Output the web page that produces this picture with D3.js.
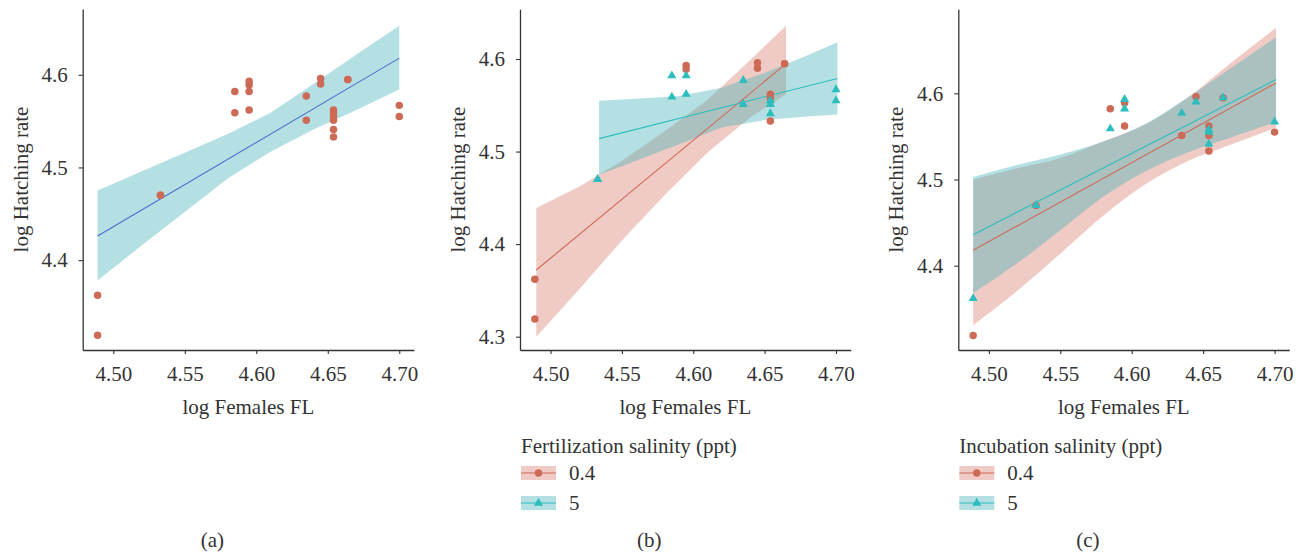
<!DOCTYPE html>
<html>
<head>
<meta charset="utf-8">
<script src="https://cdn.jsdelivr.net/npm/d3@7"></script>
<style>
  body { margin: 0; background: #fff; }
  svg text { font-family: "Liberation Serif", "DejaVu Serif", serif; fill: #333; }
</style>
</head>
<body>
<div id="chart"></div>
<script>
// Datos: un registro por hembra (log FL, log tasa de eclosion, salinidades)
var femaleFL  = [4.489, 4.489, 4.533, 4.533, 4.585, 4.585, 4.595, 4.595, 4.595, 4.595, 4.635, 4.635,
                 4.645, 4.645, 4.664, 4.664, 4.654, 4.654, 4.654, 4.654, 4.654, 4.654, 4.700, 4.700];
var hatchRate = [4.319, 4.362, 4.470, 4.470, 4.582, 4.559, 4.593, 4.589, 4.582, 4.562, 4.577, 4.551,
                 4.596, 4.590, 4.595, 4.595, 4.562, 4.558, 4.555, 4.551, 4.541, 4.533, 4.567, 4.555];
var fertSal   = ["0.4", "0.4", "5", "5", "5", "5", "0.4", "0.4", "5", "5", "5", "5",
                 "0.4", "0.4", "0.4", "0.4", "0.4", "0.4", "5", "5", "5", "0.4", "5", "5"];
var incubSal  = ["0.4", "5", "0.4", "5", "0.4", "5", "5", "0.4", "5", "0.4", "5", "0.4",
                 "0.4", "5", "0.4", "5", "0.4", "5", "5", "0.4", "5", "0.4", "5", "0.4"];

var groups = ["0.4", "5"];
var xTicks = [4.50, 4.55, 4.60, 4.65, 4.70];

// Rectas ajustadas e intervalos de confianza
// (a) todos los datos
var fitA   = {x: [4.489, 4.700], y: [4.426, 4.618]};
var bandAx = [4.489, 4.52, 4.55, 4.58, 4.61, 4.64, 4.67, 4.70];
var bandAhi = [4.475, 4.496, 4.516, 4.536, 4.559, 4.590, 4.622, 4.653];
var bandAlo = [4.378, 4.416, 4.452, 4.488, 4.517, 4.541, 4.562, 4.584];

// (b) salinidad de fertilizacion
var fitB = {
  "0.4": {x: [4.490, 4.665], y: [4.372, 4.595]},
  "5":   {x: [4.534, 4.701], y: [4.514, 4.579]}
};
var bandBx = {
  "0.4": [4.490, 4.52, 4.55, 4.58, 4.61, 4.64, 4.665],
  "5":   [4.534, 4.56, 4.59, 4.62, 4.65, 4.68, 4.701]
};
var bandBhi = {
  "0.4": [4.439, 4.462, 4.490, 4.522, 4.556, 4.599, 4.636],
  "5":   [4.555, 4.557, 4.560, 4.569, 4.585, 4.604, 4.618]
};
var bandBlo = {
  "0.4": [4.300, 4.351, 4.404, 4.453, 4.499, 4.537, 4.562],
  "5":   [4.475, 4.490, 4.508, 4.526, 4.534, 4.538, 4.540]
};

// (c) salinidad de incubacion
var fitC = {
  "0.4": {x: [4.489, 4.701], y: [4.418, 4.612]},
  "5":   {x: [4.489, 4.701], y: [4.436, 4.616]}
};
var bandCx = [4.489, 4.52, 4.55, 4.58, 4.61, 4.64, 4.67, 4.701];
var bandChi = {
  "0.4": [4.500, 4.513, 4.525, 4.544, 4.564, 4.596, 4.636, 4.676],
  "5":   [4.503, 4.517, 4.529, 4.544, 4.565, 4.596, 4.630, 4.665]
};
var bandClo = {
  "0.4": [4.331, 4.371, 4.414, 4.458, 4.495, 4.522, 4.541, 4.560],
  "5":   [4.368, 4.403, 4.441, 4.480, 4.510, 4.532, 4.549, 4.567]
};

// Colores
var pointColor = {"0.4": "#cd6a56", "5": "#2ebdbd"};
var bandColor  = {"0.4": "#d97e6d", "5": "#44b2b9"};
var bandAlpha = 0.4;
var FS = 21; // tamano de letra

var W = 1304, H = 557;
var svg = d3.select("#chart").append("svg")
  .attr("width", W)
  .attr("height", H);

var fish = femaleFL.map(function(x, i) {
  return {x: x, y: hatchRate[i], fert: fertSal[i], incub: incubSal[i]};
});

// Paneles: posicion en pixeles y dominio vertical
var panels = [
  {id: "a", left: 82.7,  right: 414,    top: 9,   bottom: 350, yDom: [4.303, 4.671],  yTicks: [4.4, 4.5, 4.6]},
  {id: "b", left: 520,   right: 850.7,  top: 9.3, bottom: 350, yDom: [4.2856, 4.6537], yTicks: [4.3, 4.4, 4.5, 4.6],
   key: "fert", legend: "Fertilization salinity (ppt)"},
  {id: "c", left: 958.3, right: 1289.3, top: 9.3, bottom: 350, yDom: [4.3022, 4.6975], yTicks: [4.4, 4.5, 4.6],
   key: "incub", legend: "Incubation salinity (ppt)"}
];

var xDom = [4.4786, 4.7103];

function symbolFor(k) {
  return d3.symbol().type(k === "0.4" ? d3.symbolCircle : d3.symbolTriangle).size(k === "0.4" ? 44 : 36);
}

panels.forEach(function(p) {
  var x = d3.scaleLinear().domain(xDom).range([p.left, p.right]);
  var y = d3.scaleLinear().domain(p.yDom).range([p.bottom, p.top]);
  var g = svg.append("g").attr("class", "panel-" + p.id);

  var area = d3.area()
    .x(function(d) { return x(d[0]); })
    .y0(function(d) { return y(d[1]); })
    .y1(function(d) { return y(d[2]); })
    .curve(p.id === "c" ? d3.curveMonotoneX : d3.curveLinear);
  var line = d3.line()
    .x(function(d) { return x(d[0]); })
    .y(function(d) { return y(d[1]); });

  function zipBand(xs, lo, hi) {
    return xs.map(function(v, i) { return [v, lo[i], hi[i]]; });
  }
  function zipFit(f) {
    return f.x.map(function(v, i) { return [v, f.y[i]]; });
  }

  if (p.id === "a") {
    g.append("path")
      .attr("d", area(zipBand(bandAx, bandAlo, bandAhi)))
      .attr("fill", bandColor["5"])
      .attr("fill-opacity", bandAlpha);
    g.append("path")
      .attr("d", line(zipFit(fitA)))
      .attr("fill", "none")
      .attr("stroke", "#4d6fcf")
      .attr("stroke-width", 1.1);
    g.selectAll("path.pt")
      .data(fish)
      .enter().append("path")
        .attr("class", "pt")
        .attr("transform", function(d) { return "translate(" + x(d.x) + "," + y(d.y) + ")"; })
        .attr("d", symbolFor("0.4"))
        .attr("fill", pointColor["0.4"]);
  } else {
    groups.forEach(function(k) {
      var bx = p.id === "b" ? bandBx[k] : bandCx;
      var lo = p.id === "b" ? bandBlo[k] : bandClo[k];
      var hi = p.id === "b" ? bandBhi[k] : bandChi[k];
      g.append("path")
        .attr("d", area(zipBand(bx, lo, hi)))
        .attr("fill", bandColor[k])
        .attr("fill-opacity", bandAlpha);
    });
    groups.forEach(function(k) {
      var f = p.id === "b" ? fitB[k] : fitC[k];
      g.append("path")
        .attr("d", line(zipFit(f)))
        .attr("fill", "none")
        .attr("stroke", pointColor[k])
        .attr("stroke-width", 1.1);
    });
    groups.forEach(function(k) {
      g.selectAll("path.pt" + k.replace(".", ""))
        .data(fish.filter(function(d) { return d[p.key] === k; }))
        .enter().append("path")
          .attr("class", "pt" + k.replace(".", ""))
          .attr("transform", function(d) { return "translate(" + x(d.x) + "," + y(d.y) + ")"; })
          .attr("d", symbolFor(k))
          .attr("fill", pointColor[k]);
    });
  }

  // Ejes
  var xAxis = g.append("g")
    .attr("transform", "translate(0," + p.bottom + ")")
    .call(d3.axisBottom(x).tickValues(xTicks).tickFormat(d3.format(".2f")).tickSize(4).tickPadding(12).tickSizeOuter(0));
  var yAxis = g.append("g")
    .attr("transform", "translate(" + p.left + ",0)")
    .call(d3.axisLeft(y).tickValues(p.yTicks).tickFormat(d3.format(".1f")).tickSize(4).tickPadding(11).tickSizeOuter(0));
  [xAxis, yAxis].forEach(function(ax) {
    ax.attr("font-family", "'Liberation Serif', serif").attr("font-size", FS);
    ax.select(".domain").attr("stroke", "#333").attr("stroke-width", 1.3);
    ax.selectAll(".tick line").attr("stroke", "#333").attr("stroke-width", 1.1);
    ax.selectAll("text").attr("fill", "#333");
  });

  // Titulos de ejes
  var cx = (p.left + p.right) / 2;
  g.append("text")
    .attr("x", cx).attr("y", 414)
    .attr("text-anchor", "middle")
    .attr("font-size", FS)
    .text("log Females FL");
  g.append("text")
    .attr("transform", "translate(" + (p.left - 55) + "," + ((p.top + p.bottom) / 2) + ") rotate(-90)")
    .attr("text-anchor", "middle")
    .attr("font-size", FS)
    .text("log Hatching rate");

  // Etiqueta del panel
  g.append("text")
    .attr("x", cx - 36).attr("y", 547)
    .attr("text-anchor", "middle")
    .attr("font-size", FS)
    .text("(" + p.id + ")");

  // Leyenda
  if (p.legend) {
    var lg = g.append("g").attr("transform", "translate(" + (p.left + 1) + ",0)");
    lg.append("text").attr("x", 0).attr("y", 453).attr("font-size", FS).text(p.legend);
    groups.forEach(function(k, i) {
      var ky = 473 + i * 30;
      lg.append("rect")
        .attr("x", 0).attr("y", ky - 7).attr("width", 35).attr("height", 14)
        .attr("fill", bandColor[k]).attr("fill-opacity", bandAlpha);
      lg.append("line")
        .attr("x1", 0).attr("x2", 35).attr("y1", ky).attr("y2", ky)
        .attr("stroke", pointColor[k]).attr("stroke-width", 1.1);
      lg.append("path")
        .attr("transform", "translate(17.5," + ky + ")")
        .attr("d", symbolFor(k))
        .attr("fill", pointColor[k]);
      lg.append("text")
        .attr("x", 48).attr("y", ky + 7)
        .attr("font-size", FS)
        .text(k);
    });
  }
});
</script>
</body>
</html>
